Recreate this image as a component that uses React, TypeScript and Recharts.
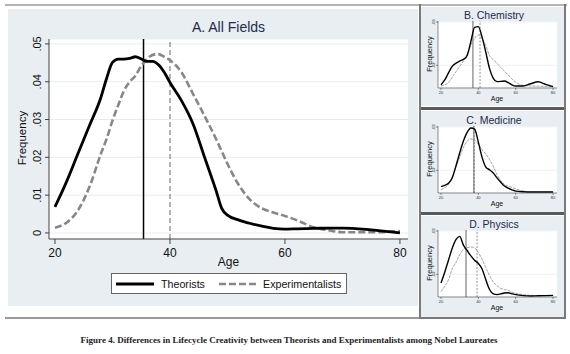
import { LineChart, Line, XAxis, YAxis, CartesianGrid, ReferenceLine } from 'recharts';

// A. All Fields
const allAges = [20, 22, 24, 26, 28, 29, 30, 31, 32, 33, 34, 35, 36, 37, 38, 39, 40, 42, 44, 46, 48, 49, 50, 52, 54, 56, 58, 60, 62, 65, 68, 70, 75, 80];
const allTheorists = [0.0069, 0.0135, 0.021, 0.0284, 0.0359, 0.041, 0.0451, 0.046, 0.046, 0.0462, 0.0466, 0.046, 0.0454, 0.0454, 0.0445, 0.0425, 0.0398, 0.035, 0.0289, 0.0201, 0.0113, 0.0065, 0.0047, 0.0034, 0.0025, 0.0018, 0.0012, 0.001, 0.0011, 0.0012, 0.0013, 0.0013, 0.0008, 0];
const allExperimentalists = [0.0014, 0.0027, 0.006, 0.0122, 0.021, 0.025, 0.0297, 0.0338, 0.0376, 0.04, 0.0416, 0.0442, 0.046, 0.0471, 0.0473, 0.0466, 0.0457, 0.0425, 0.0368, 0.031, 0.0249, 0.0216, 0.0183, 0.0126, 0.0087, 0.0065, 0.0054, 0.0045, 0.0034, 0.0015, 0.0006, 0.0002, 0.0002, 0.0005];
const allMeans = [35.4, 40];
const allYTicks = [0, 0.01, 0.02, 0.03, 0.04, 0.05];
const ageTicks = [20, 40, 60, 80];

// small panels share one age grid
const panelAges = [20, 22, 24, 26, 28, 30, 32, 34, 36, 38, 40, 42, 44, 46, 48, 50, 52, 54, 56, 58, 60, 64, 68, 72, 76, 80];
const chemTheorists = [0.002, 0.0065, 0.013, 0.019, 0.022, 0.024, 0.0255, 0.029, 0.042, 0.055, 0.0557, 0.046, 0.032, 0.017, 0.008, 0.005, 0.0052, 0.0056, 0.004, 0.002, 0.0009, 0.001, 0.003, 0.0048, 0.0025, 0.0003];
const chemExperimentalists = [0.001, 0.002, 0.004, 0.009, 0.014, 0.019, 0.024, 0.03, 0.039, 0.045, 0.048, 0.045, 0.038, 0.029, 0.025, 0.022, 0.018, 0.0145, 0.011, 0.0075, 0.0045, 0.0015, 0.001, 0.0008, 0.0005, 0.0003];
const medTheorists = [0.005, 0.0062, 0.008, 0.013, 0.024, 0.036, 0.047, 0.055, 0.059, 0.058, 0.046, 0.032, 0.023, 0.0205, 0.0175, 0.013, 0.009, 0.0055, 0.0035, 0.002, 0.0008, 0.0002, 0, 0, 0, 0];
const medExperimentalists = [0.002, 0.004, 0.007, 0.014, 0.023, 0.032, 0.041, 0.047, 0.049, 0.048, 0.044, 0.039, 0.035, 0.03, 0.0237, 0.016, 0.0105, 0.007, 0.0055, 0.0043, 0.003, 0.001, 0, 0, 0, 0];
const physTheorists = [0.012, 0.022, 0.033, 0.044, 0.052, 0.055, 0.047, 0.042, 0.037, 0.033, 0.03, 0.025, 0.015, 0.006, 0.002, 0.0013, 0.002, 0.0028, 0.003, 0.002, 0.0013, 0.0004, 0, 0.0002, 0.0004, 0.0006];
const physExperimentalists = [0.004, 0.009, 0.015, 0.025, 0.031, 0.038, 0.043, 0.0445, 0.0452, 0.0445, 0.04, 0.034, 0.026, 0.019, 0.013, 0.0095, 0.007, 0.006, 0.0052, 0.0035, 0.0025, 0.0012, 0.0006, 0.0004, 0.0003, 0.0003];
const chemMeans = [37.1, 40.9];
const medMeans = [37.6, 37.8];
const physMeans = [33.4, 39.3];
const panelYTicks = [0, 0.02, 0.04, 0.06];

const PANEL_BG = '#e8eef1';
const TITLE_COLOR = '#1c2a4c';
const SANS = '"Liberation Sans", Arial, sans-serif';

const toRows = (ages: number[], t: number[], e: number[]) =>
  ages.map((age, i) => ({ age, theorists: t[i], experimentalists: e[i] }));

const fmtFreq = (v: number) => (v === 0 ? '0' : v.toFixed(2).replace(/^0/, ''));

const VertTick = ({ x, y, payload, fontSize, shift }: any) => {
  const bx = x - shift;
  return (
    <text
      x={bx}
      y={y}
      transform={`rotate(-90 ${bx} ${y})`}
      textAnchor="middle"
      fontSize={fontSize}
      fontFamily={SANS}
      fill="#111"
    >
      {fmtFreq(payload.value)}
    </text>
  );
};

interface PanelProps {
  title: string;
  top: number;
  theorists: number[];
  experimentalists: number[];
  means: number[];
}

function SmallPanel({ title, top, theorists, experimentalists, means }: PanelProps) {
  const data = toRows(panelAges, theorists, experimentalists);
  return (
    <div style={{ position: 'absolute', left: 421, top, width: 142, height: 100 }}>
      <LineChart width={142} height={100} data={data} margin={{ top: 14, right: 6, bottom: 9, left: 7 }}>
        <CartesianGrid vertical={false} stroke="#e3eaed" strokeWidth={0.6} fill="#fff" />
        <XAxis
          dataKey="age"
          type="number"
          domain={[18.4, 82.1]}
          ticks={ageTicks}
          allowDataOverflow
          height={10}
          tick={{ fontSize: 4, fill: '#333', fontFamily: SANS }}
          tickSize={2}
          tickMargin={1}
          stroke="#444"
          strokeWidth={0.6}
        />
        <YAxis
          type="number"
          domain={[-0.0009, 0.0609]}
          ticks={panelYTicks}
          allowDataOverflow
          width={10}
          tickSize={2}
          tickMargin={1}
          tick={<VertTick fontSize={4} shift={0} />}
          stroke="#444"
          strokeWidth={0.6}
        />
        <ReferenceLine x={means[0]} stroke="#222" strokeWidth={0.7} />
        <ReferenceLine x={means[1]} stroke="#666" strokeWidth={0.7} strokeDasharray="2 1.5" />
        <Line dataKey="experimentalists" type="monotone" stroke="#8c8c8c" strokeWidth={0.8} strokeDasharray="3 1" dot={false} isAnimationActive={false} />
        <Line dataKey="theorists" type="monotone" stroke="#000" strokeWidth={1.4} dot={false} isAnimationActive={false} />
      </LineChart>
      <svg width={142} height={100} style={{ position: 'absolute', left: 0, top: 0, pointerEvents: 'none' }}>
        <text x={73} y={11.5} textAnchor="middle" fontFamily={SANS} fontSize={10.5} fill={TITLE_COLOR}>{title}</text>
        <text transform="translate(8 47) rotate(-90)" textAnchor="middle" dominantBaseline="central" fontFamily={SANS} fontSize={7.5} fill="#111">Frequency</text>
        <text x={76} y={94} textAnchor="middle" fontFamily={SANS} fontSize={7} fill="#111">Age</text>
      </svg>
    </div>
  );
}

export default function App() {
  const allData = toRows(allAges, allTheorists, allExperimentalists);
  return (
    <div style={{ position: 'absolute', left: 0, top: 0, width: 570, height: 354, background: '#fff', overflow: 'hidden' }}>
      {/* frame */}
      <div style={{ position: 'absolute', left: 5, top: 4, width: 562, height: 2, background: '#b4b4b4' }} />
      <div style={{ position: 'absolute', left: 8, top: 9, width: 410, height: 297, background: PANEL_BG }} />
      <div style={{ position: 'absolute', left: 5, top: 317, width: 416, height: 2, background: '#9a9a9a' }} />
      <div style={{ position: 'absolute', left: 419, top: 4, width: 2, height: 315, background: '#7a7a7a' }} />
      <div style={{ position: 'absolute', left: 564, top: 4, width: 2, height: 315, background: '#7a7a7a' }} />
      <div style={{ position: 'absolute', left: 421, top: 7, width: 143, height: 99, background: PANEL_BG }} />
      <div style={{ position: 'absolute', left: 421, top: 111, width: 143, height: 101, background: PANEL_BG }} />
      <div style={{ position: 'absolute', left: 421, top: 216, width: 143, height: 101, background: PANEL_BG }} />
      <div style={{ position: 'absolute', left: 421, top: 107, width: 143, height: 3, background: '#5a5a5a' }} />
      <div style={{ position: 'absolute', left: 421, top: 212, width: 143, height: 3, background: '#5a5a5a' }} />
      <div style={{ position: 'absolute', left: 421, top: 317, width: 145, height: 2, background: '#7a7a7a' }} />

      {/* A. All Fields */}
      <div style={{ position: 'absolute', left: 0, top: 0 }}>
        <LineChart width={420} height={310} data={allData} margin={{ top: 39, right: 12, bottom: 41, left: 9 }}>
          <CartesianGrid vertical={false} stroke="#e6edf0" fill="#fff" />
          <XAxis
            dataKey="age"
            type="number"
            domain={[18.96, 81.4]}
            ticks={ageTicks}
            allowDataOverflow
            height={30}
            tickSize={5}
            tickMargin={4}
            tick={{ fontSize: 12, fill: '#111', fontFamily: SANS }}
            stroke="#444"
          />
          <YAxis
            type="number"
            domain={[-0.0016, 0.0513]}
            ticks={allYTicks}
            allowDataOverflow
            width={40}
            tickSize={4}
            tickMargin={2}
            tick={<VertTick fontSize={11} shift={2} />}
            stroke="#444"
          />
          <ReferenceLine x={allMeans[0]} stroke="#000" strokeWidth={1.5} />
          <ReferenceLine x={allMeans[1]} stroke="#999" strokeWidth={1.5} strokeDasharray="5 3" />
          <Line dataKey="experimentalists" type="monotone" stroke="#878787" strokeWidth={2.6} strokeDasharray="7 3" dot={false} isAnimationActive={false} />
          <Line dataKey="theorists" type="monotone" stroke="#000" strokeWidth={2.8} dot={false} isAnimationActive={false} />
        </LineChart>
      </div>

      {/* text overlay for the main panel and caption */}
      <svg width={570} height={354} style={{ position: 'absolute', left: 0, top: 0, pointerEvents: 'none' }}>
        <text x={228.5} y={32} textAnchor="middle" fontFamily={SANS} fontSize={14} fill={TITLE_COLOR}>A. All Fields</text>
        <text transform="translate(22 138) rotate(-90)" textAnchor="middle" dominantBaseline="central" fontFamily={SANS} fontSize={11.5} fill="#111">Frequency</text>
        <text x={228.5} y={266} textAnchor="middle" fontFamily={SANS} fontSize={12} fill="#111">Age</text>
        <text x={289} y={343} textAnchor="middle" fontFamily={'"Liberation Serif", "Times New Roman", serif'} fontSize={9} fontWeight="bold" fill="#222">
          Figure 4. Differences in Lifecycle Creativity between Theorists and Experimentalists among Nobel Laureates
        </text>
      </svg>

      {/* legend */}
      <div style={{ position: 'absolute', left: 111, top: 273, width: 234, height: 19, border: '1px solid #666', background: '#fff' }}>
        <svg width={234} height={19} style={{ position: 'absolute', left: 0, top: 0 }}>
          <line x1={4} x2={42} y1={10} y2={10} stroke="#000" strokeWidth={2.8} />
          <line x1={107} x2={146} y1={10} y2={10} stroke="#878787" strokeWidth={2.6} strokeDasharray="7 3" />
          <text x={49} y={14} fontFamily={SANS} fontSize={10.7} fill="#111">Theorists</text>
          <text x={151} y={14} fontFamily={SANS} fontSize={10.7} fill="#111">Experimentalists</text>
        </svg>
      </div>

      <SmallPanel title="B. Chemistry" top={7} theorists={chemTheorists} experimentalists={chemExperimentalists} means={chemMeans} />
      <SmallPanel title="C. Medicine" top={112} theorists={medTheorists} experimentalists={medExperimentalists} means={medMeans} />
      <SmallPanel title="D. Physics" top={216} theorists={physTheorists} experimentalists={physExperimentalists} means={physMeans} />
    </div>
  );
}
